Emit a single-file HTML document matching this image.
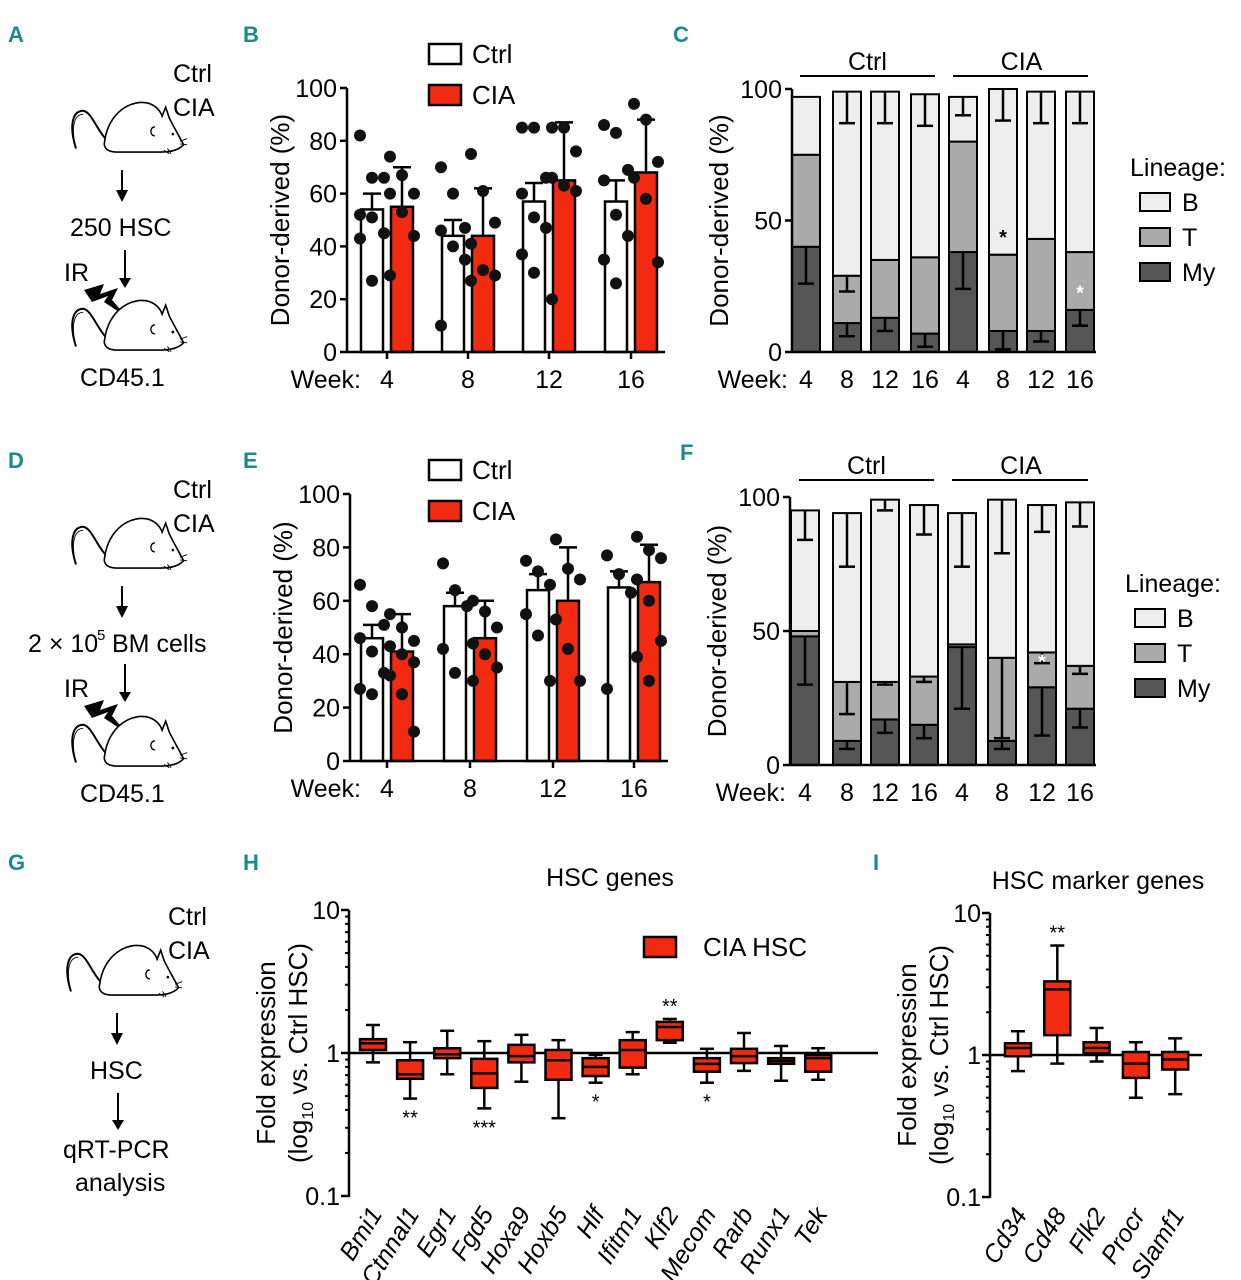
<!DOCTYPE html>
<html><head><meta charset="utf-8">
<style>
html,body{margin:0;padding:0;background:#fff;}
svg{display:block;font-family:"Liberation Sans",sans-serif;}
.lt{fill:#1a8a8a;font-weight:bold;font-size:22px;font-family:"Liberation Sans Narrow","Liberation Sans",sans-serif;}
.tk{font-size:25px;fill:#000;}
.yl{font-size:26px;fill:#000;}
</style></head>
<body>
<svg id="fig" width="1241" height="1280" viewBox="0 0 1241 1280" xmlns="http://www.w3.org/2000/svg">
<defs>
<symbol id="mouse" viewBox="0 0 136 70" overflow="visible">
<path d="M10,60 C2,35 6,18 18,18 C30,20 34,48 56,60" fill="none" stroke="#000" stroke-width="2.2"/>
<path d="M10,60 C4,36 8,22 18,22" fill="none" stroke="#000" stroke-width="1"/>
<path d="M42,52 C46,20 72,4 92,10 C100,13 104,18 106,24 L110,14 L114,26 C120,38 126,48 130,56 C124,62 116,64 104,64 L56,64 C46,64 40,60 42,52 Z" fill="#fff" stroke="#000" stroke-width="1.8"/>
<path d="M98,36 C92,36 92,46 98,46" fill="none" stroke="#000" stroke-width="1.5"/>
<circle cx="118" cy="44" r="1.5" fill="#000"/>
<path d="M126,52 l8,-3 M126,55 l8,1 M108,62 l6,4 M112,60 l4,6" stroke="#000" stroke-width="1"/>
</symbol>
</defs>
<g id="root"></g>
</svg>
<script>
// ---------- data ----------
const weeks = ["4","8","12","16"];
const bCtrl = [54,44,57,57];
const bCia = [55,44,65,68];
const bCtrlErr = [6,6,7,8];
const bCiaErr = [15,18,22,20];
const bCtrlDots = [[82,66,66,52,51,45,43,27],[70,60,47,46,40,35,10],[85,85,66,60,51,47,37,30],[86,83,69,65,52,44,35,26]];
const bCiaDots = [[74,67,60,60,53,44,29],[75,61,49,41,31,29,27],[85,85,76,66,63,61,20],[94,88,72,66,58,34]];
const eCtrl = [46,58,64,65];
const eCia = [41,46,60,67];
const eCtrlErr = [5,5,6,6];
const eCiaErr = [14,14,20,14];
const eCtrlDots = [[66,58,51,46,41,33,27,25],[74,64,58,42,33],[75,71,66,55,47,30],[77,70,63,27]];
const eCiaDots = [[55,50,45,43,40,37,32,25,11],[60,56,50,44,40,35,30],[83,72,68,53,42,30],[84,79,76,68,60,45,39,30]];
const cMy = [40,11,13,7,38,8,8,16];
const cT = [75,29,35,36,80,37,43,38];
const cB = [97,99,99,98,97,100,99,99];
const cBerr = [0,12,12,12,7,12,12,12];
const cTerr = [0,6,0,0,0,0,0,0];
const cMyErr = [14,5,5,5,14,7,4,6];
const fMy = [48,9,17,15,44,9,29,21];
const fT = [50,31,31,33,45,40,42,37];
const fB = [95,94,99,97,94,99,97,98];
const fBerr = [11,20,4,11,20,20,10,9];
const fTerr = [0,12,1,2,0,30,4,3];
const fMyErr = [18,3,5,5,23,3,18,7];
const hGenes = ["Bmi1","Ctnnal1","Egr1","Fgd5","Hoxa9","Hoxb5","Hlf","Ifitm1","Klf2","Mecom","Rarb","Runx1","Tek"];
const hMin = [0.86,0.48,0.71,0.41,0.63,0.35,0.62,0.71,1.18,0.62,0.75,0.64,0.65];
const hQ1 = [1.05,0.66,0.92,0.57,0.86,0.65,0.69,0.79,1.23,0.74,0.85,0.84,0.74];
const hMed = [1.17,0.71,0.98,0.72,0.95,0.89,0.80,1.05,1.52,0.84,0.95,0.88,0.92];
const hQ3 = [1.25,0.89,1.08,0.91,1.14,1.05,0.92,1.23,1.65,0.92,1.07,0.92,0.97];
const hMax = [1.57,1.19,1.43,1.21,1.34,1.23,0.97,1.40,1.73,1.07,1.38,1.12,1.08];
const hStars = ["","**","","***","","","*","","**","*","","",""];
const iGenes = ["Cd34","Cd48","Flk2","Procr","Slamf1"];
const iMin = [0.77,0.87,0.90,0.50,0.53];
const iQ1 = [0.98,1.38,1.03,0.69,0.79];
const iMed = [1.12,2.9,1.12,0.87,0.93];
const iQ3 = [1.21,3.3,1.23,1.05,1.05];
const iMax = [1.47,5.9,1.55,1.23,1.31];
const iStars = ["","**","","",""];
const yTicks = [0,20,40,60,80,100];
const stackTicks = [0,50,100];
const logTicks = [0.1,1,10];

// ---------- helpers ----------
const NS="http://www.w3.org/2000/svg";
const root=document.getElementById('root');
function mk(tag,attrs,parent,txt){const e=document.createElementNS(NS,tag);for(const k in attrs)e.setAttribute(k,attrs[k]);if(txt!==undefined)e.textContent=txt;(parent||root).appendChild(e);return e;}
function line(x1,y1,x2,y2,w,p){return mk('line',{x1,y1,x2,y2,stroke:'#000','stroke-width':w||2.5},p);}
const RED="#f22a10";

function letter(t,x,y){const e=mk('text',{x,y,class:'lt'},root,t);

}

// ---------- schematic ----------
function schematic(g,x0,y0){
  const grp=mk('g',{},root);
  
  
  mk('text',{x:x0+106,y:y0+38,'font-size':'25'},grp,'Ctrl');
  mk('text',{x:x0+106,y:y0+72,'font-size':'25'},grp,'CIA');
  mk('use',{href:'#mouse',x:x0,y:y0+48,width:122,height:68},grp);
  line(x0+55,y0+126,x0+55,y0+152,2,grp);
  mk('path',{d:`M${x0+49},${y0+146} L${x0+55},${y0+158} L${x0+61},${y0+146}Z`,fill:'#000'},grp);
  return grp;
}
function arrow(grp,x,y1,y2){line(x,y1,x,y2-6,2,grp);mk('path',{d:`M${x-6},${y2-10} L${x},${y2} L${x+6},${y2-10}Z`,fill:'#000'},grp);}

// A
let g=schematic('a',67,44);
mk('text',{x:70,y:236,'font-size':'25'},g,'250 HSC');
arrow(g,125,250,288);
mk('text',{x:64,y:281,'font-size':'25'},g,'IR');
mk('path',{d:'M84,290 L104,284 L100,294 L118,288 L112,300 L128,318 L104,302 L108,296 L92,302Z',fill:'#000'},g);
mk('use',{href:'#mouse',x:67,y:290,width:122,height:68},g);
mk('text',{x:80,y:386,'font-size':'25'},g,'CD45.1');
// D
g=schematic('d',67,460);
mk('text',{x:28,y:652,'font-size':'25'},g,'2 \u00d7 10');
mk('text',{x:97,y:640,'font-size':'15'},g,'5');
mk('text',{x:112,y:652,'font-size':'25'},g,'BM cells');
arrow(g,125,664,702);
mk('text',{x:64,y:697,'font-size':'25'},g,'IR');
mk('path',{d:'M84,706 L104,700 L100,710 L118,704 L112,716 L128,734 L104,718 L108,712 L92,718Z',fill:'#000'},g);
mk('use',{href:'#mouse',x:67,y:706,width:122,height:68},g);
mk('text',{x:80,y:802,'font-size':'25'},g,'CD45.1');
// G
g=schematic('g',62,887);
mk('text',{x:90,y:1079,'font-size':'25'},g,'HSC');
arrow(g,118,1093,1130);
mk('text',{x:63,y:1158,'font-size':'25'},g,'qRT-PCR');
mk('text',{x:75,y:1191,'font-size':'25'},g,'analysis');

letter('A',8,42);letter('B',243,42);letter('C',673,42);
letter('D',8,468);letter('E',243,468);letter('F',680,460);
letter('G',8,870);letter('H',243,870);letter('I',873,870);

// ---------- bar+dot panels ----------
function barPanel(id,ax,y0,y100,xEnd,tickX,ctrl,cia,cE,iE,cD,iD,legY){
  const grp=mk('g',{},root);
  
  
  const ys=v=>y0-(y0-y100)*v/100;
  const lg=mk('g',{},grp);
  
  
  mk('rect',{x:429,y:legY-12,width:32,height:20,fill:'#fff',stroke:'#000','stroke-width':2.5},lg);
  mk('text',{x:472,y:legY+7,'font-size':'26'},lg,'Ctrl');
  mk('rect',{x:429,y:legY+29,width:32,height:20,fill:RED,stroke:'#000','stroke-width':2.5},lg);
  mk('text',{x:472,y:legY+48,'font-size':'26'},lg,'CIA');
  weeks.forEach((w,i)=>{
    const cx=tickX[i];
    [[ctrl,cE,cD,'#fff',-15,'ctrl'],[cia,iE,iD,RED,15,'cia']].forEach(([vals,err,dots,fill,off,nm])=>{
      const bx=cx+off;
      const top=ys(vals[i]+err[i]);
      line(bx,ys(vals[i]),bx,top,2.5,grp);line(bx-9,top,bx+9,top,2.5,grp);
      const r=mk('rect',{x:bx-11,y:ys(vals[i]),width:22,height:y0-ys(vals[i]),fill:fill,stroke:'#000','stroke-width':2.5},grp);
      
      
      dots[i].forEach((v,k)=>{
        const dx=((k%3)-1)*12;
        const c=mk('circle',{cx:bx+dx,cy:ys(v),r:6,fill:'#111'},grp);
        
        
      });
    });
    line(cx,y0,cx,y0+7,2.5,grp);
    mk('text',{x:cx,y:y0+36,'text-anchor':'middle',class:'tk'},grp,w);
  });
  line(ax,y100,ax,y0+1,2.5,grp);line(ax-1,y0,xEnd,y0,2.5,grp);
  yTicks.forEach(t=>{line(ax-7,ys(t),ax,ys(t),2.5,grp);mk('text',{x:ax-10,y:ys(t)+9,'text-anchor':'end',class:'tk'},grp,String(t));});
  mk('text',{x:tickX[0]-26,y:y0+36,'text-anchor':'end',class:'tk'},grp,'Week:');
  mk('text',{transform:`translate(${ax-58},${(y0+y100)/2}) rotate(-90)`,'text-anchor':'middle',class:'yl'},grp,'Donor-derived (%)');
}
barPanel('b',347,352,88,665,[387,468,549,631],bCtrl,bCia,bCtrlErr,bCiaErr,bCtrlDots,bCiaDots,56);
barPanel('e',350,761,494,668,[387,470,553,634],eCtrl,eCia,eCtrlErr,eCiaErr,eCtrlDots,eCiaDots,472);

// ---------- stacked panels ----------
function stackPanel(id,ax,y0,y100,cx,my,t,b,bE,tE,mE,legX,legY,hdrY,stars){
  const grp=mk('g',{},root);
  
  
  const ys=v=>y0-(y0-y100)*v/100;
  const wd=[4,8,12,16,4,8,12,16];
  cx.forEach((x,i)=>{
    const segs=[[0,my[i],'#555'],[my[i],t[i],'#aaa'],[t[i],b[i],'#eee']];
    segs.forEach(([a,c,f],k)=>{
      const r=mk('rect',{x:x-14,y:ys(c),width:28,height:ys(a)-ys(c),fill:f,stroke:'#000','stroke-width':2},grp);
      
      
    });
    [[b[i],bE[i]],[t[i],tE[i]],[my[i],mE[i]]].forEach(([v,e])=>{if(e>0){line(x,ys(v),x,ys(v-e),2.5,grp);line(x-8,ys(v-e),x+8,ys(v-e),2.5,grp);}});
    mk('text',{x:x,y:y0+36,'text-anchor':'middle',class:'tk'},grp,String(wd[i]));
  });
  line(ax,y100,ax,y0+1,2.5,grp);line(ax,y0,cx[7]+16,y0,2.5,grp);
  stackTicks.forEach(v=>{line(ax-7,ys(v),ax,ys(v),2.5,grp);mk('text',{x:ax-10,y:ys(v)+9,'text-anchor':'end',class:'tk'},grp,String(v));});
  mk('text',{x:ax-4,y:y0+36,'text-anchor':'end',class:'tk'},grp,'Week:');
  mk('text',{transform:`translate(${ax-64},${(y0+y100)/2}) rotate(-90)`,'text-anchor':'middle',class:'yl'},grp,'Donor-derived (%)');
  line(cx[0]-6,hdrY,cx[3]+10,hdrY,2,grp);line(cx[4]-10,hdrY,cx[7]+8,hdrY,2,grp);
  mk('text',{x:(cx[0]+cx[3])/2+2,y:hdrY-6,'text-anchor':'middle',class:'tk'},grp,'Ctrl');
  mk('text',{x:(cx[4]+cx[7])/2,y:hdrY-6,'text-anchor':'middle',class:'tk'},grp,'CIA');
  const lg=mk('g',{},grp);
  
  
  mk('text',{x:legX-10,y:legY,class:'tk'},lg,'Lineage:');
  [['B','#eee'],['T','#aaa'],['My','#555']].forEach(([n,f],k)=>{
    mk('rect',{x:legX,y:legY+17+k*35,width:30,height:18,fill:f,stroke:'#000','stroke-width':2},lg);
    mk('text',{x:legX+42,y:legY+35+k*35,class:'tk'},lg,n);
  });
  stars.forEach(([i,v,col])=>mk('text',{x:cx[i],y:ys(v),'text-anchor':'middle','font-size':'20',fill:col,'font-weight':'bold'},grp,'*'));
}
stackPanel('c',792,352,89,[806,847,885,925,963,1003,1041,1080],cMy,cT,cB,cBerr,cTerr,cMyErr,1140,176,76,[[5,41,'#000'],[7,20,'#fff']]);
stackPanel('f',790,765,497,[805,847,885,924,962,1002,1042,1080],fMy,fT,fB,fBerr,fTerr,fMyErr,1135,592,480,[[6,36,'#fff']]);

// ---------- log box panels ----------
function boxPanel(id,ax,y10,y1,xEnd,x0,dx,genes,mn,q1,md,q3,mx,stars,title,titleX,legend){
  const grp=mk('g',{},root);
  
  
  const dec=y1-y10;
  const ys=v=>y1-dec*Math.log10(v);
  line(ax,y10,ax,ys(0.1)+1,2.5,grp);
  logTicks.forEach(v=>{line(ax-8,ys(v),ax,ys(v),2.5,grp);mk('text',{x:ax-9,y:ys(v)+9,'text-anchor':'end',class:'tk'},grp,String(v));});
  [0.2,0.3,0.4,0.5,0.6,0.7,0.8,0.9,2,3,4,5,6,7,8,9].forEach(v=>line(ax-4,ys(v),ax,ys(v),2,grp));
  line(ax,y1,xEnd,y1,2.5,grp);
  mk('text',{x:titleX,y:y10-24,'text-anchor':'middle',class:'tk'},grp,title);
  mk('text',{transform:`translate(${ax-74},${y1}) rotate(-90)`,'text-anchor':'middle',class:'yl'},grp,'Fold expression');
  const t2=mk('text',{transform:`translate(${ax-42},${y1}) rotate(-90)`,'text-anchor':'middle',class:'yl'},grp);
  t2.innerHTML='(log<tspan font-size="16" dy="6">10</tspan><tspan dy="-6"> vs. Ctrl HSC)</tspan>';
  genes.forEach((gn,i)=>{
    const x=x0+dx*i;
    const bg=mk('g',{},grp);
    
    
    line(x,ys(mx[i]),x,ys(mn[i]),2.5,bg);
    line(x-7,ys(mx[i]),x+7,ys(mx[i]),2.5,bg);line(x-7,ys(mn[i]),x+7,ys(mn[i]),2.5,bg);
    mk('rect',{x:x-13,y:ys(q3[i]),width:26,height:ys(q1[i])-ys(q3[i]),fill:RED,stroke:'#000','stroke-width':2.5},bg);
    line(x-13,ys(md[i]),x+13,ys(md[i]),2.5,bg);
    if(stars[i]){const up=md[i]>1.2;mk('text',{x:x,y:up?ys(mx[i])-6:ys(mn[i])+26,'text-anchor':'middle','font-size':'20'},bg,stars[i]);}
    mk('text',{transform:`translate(${x+10},${ys(0.1)+18}) rotate(-58)`,'text-anchor':'end','font-size':'25','font-style':'italic'},grp,gn);
  });
  if(legend){mk('rect',{x:644,y:937,width:32,height:20,fill:RED,stroke:'#000','stroke-width':2.5},grp);
    mk('text',{x:703,y:956,'font-size':'26'},grp,'CIA HSC');}
}
boxPanel('h',349,910,1053,878,373,37.1,hGenes,hMin,hQ1,hMed,hQ3,hMax,hStars,'HSC genes',610,true);
boxPanel('i',990,913,1055,1202,1018,39.3,iGenes,iMin,iQ1,iMed,iQ3,iMax,iStars,'HSC marker genes',1098,false);
</script>
</body></html>
